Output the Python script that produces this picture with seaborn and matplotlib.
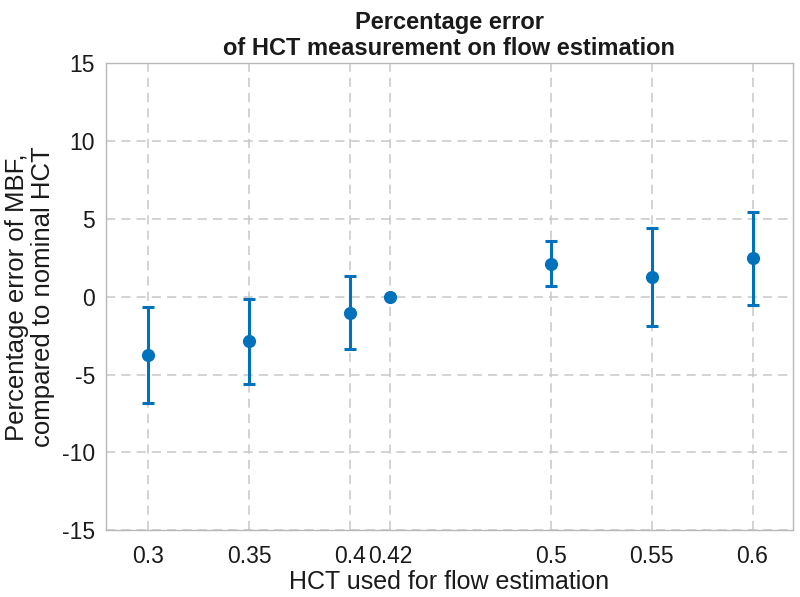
import matplotlib
matplotlib.use("Agg")
import matplotlib.pyplot as plt
import seaborn as sns
import pandas as pd

# valores
hct = [0.30, 0.35, 0.40, 0.42, 0.50, 0.55, 0.60]
erro_medio = [-3.75, -2.87, -1.05, 0.0, 2.12, 1.24, 2.47]
erro_min = [-6.80, -5.60, -3.39, 0.0, 0.71, -1.90, -0.52]
erro_max = [-0.69, -0.15, 1.35, 0.0, 3.57, 4.42, 5.46]
x_ticks = [0.30, 0.35, 0.40, 0.42, 0.50, 0.55, 0.60]
x_tick_labels = ["0.3", "0.35", "0.4", "0.42", "0.5", "0.55", "0.6"]
y_ticks = [-15, -10, -5, 0, 5, 10, 15]

df = pd.DataFrame({"hct": hct, "erro": erro_medio, "lo": erro_min, "hi": erro_max})

sns.set_style("white")
plt.rcParams["font.family"] = ["Liberation Sans", "DejaVu Sans"]
plt.rcParams["axes.unicode_minus"] = False

azul = "#0072BD"
fig = plt.figure(figsize=(8, 5.97), dpi=100)
ax = fig.add_axes([0.1325, 0.112, 0.8585, 0.782])

# barras de erro (assimétricas)
ax.errorbar(df["hct"], df["erro"],
            yerr=[df["erro"] - df["lo"], df["hi"] - df["erro"]],
            fmt="none", ecolor=azul, elinewidth=2.2, capsize=4, capthick=2.2, zorder=3)
sns.scatterplot(data=df, x="hct", y="erro", color=azul, s=90, edgecolor=azul,
                linewidth=0, ax=ax, zorder=4)

ax.set_xlim(0.279, 0.620)
ax.set_ylim(-15, 15)
ax.set_xticks(x_ticks)
ax.set_xticklabels(x_tick_labels)
ax.set_yticks(y_ticks)
ax.grid(True, linestyle=(0, (6, 4)), color="#c8c8c8", linewidth=1.1)
ax.set_axisbelow(True)
for s in ax.spines.values():
    s.set_color("#b8b8b8")
    s.set_linewidth(1.0)
ax.tick_params(direction="in", length=5, color="#b8b8b8", labelsize=16.5,
               labelcolor="#1a1a1a", pad=11)
ax.tick_params(axis="y", pad=8)

ax.set_xlabel("HCT used for flow estimation", fontsize=18, color="#1a1a1a", labelpad=1)
ax.set_ylabel("Percentage error of MBF,\ncompared to nominal HCT", fontsize=18.5,
              color="#1a1a1a", labelpad=5, linespacing=1.1)
ax.set_title("Percentage error\nof HCT measurement on flow estimation", fontsize=17,
             fontweight="bold", color="#1a1a1a", pad=6, linespacing=1.15,
             family=["Liberation Sans Narrow", "Liberation Sans", "DejaVu Sans"])

fig.savefig("out.png", dpi=100)
